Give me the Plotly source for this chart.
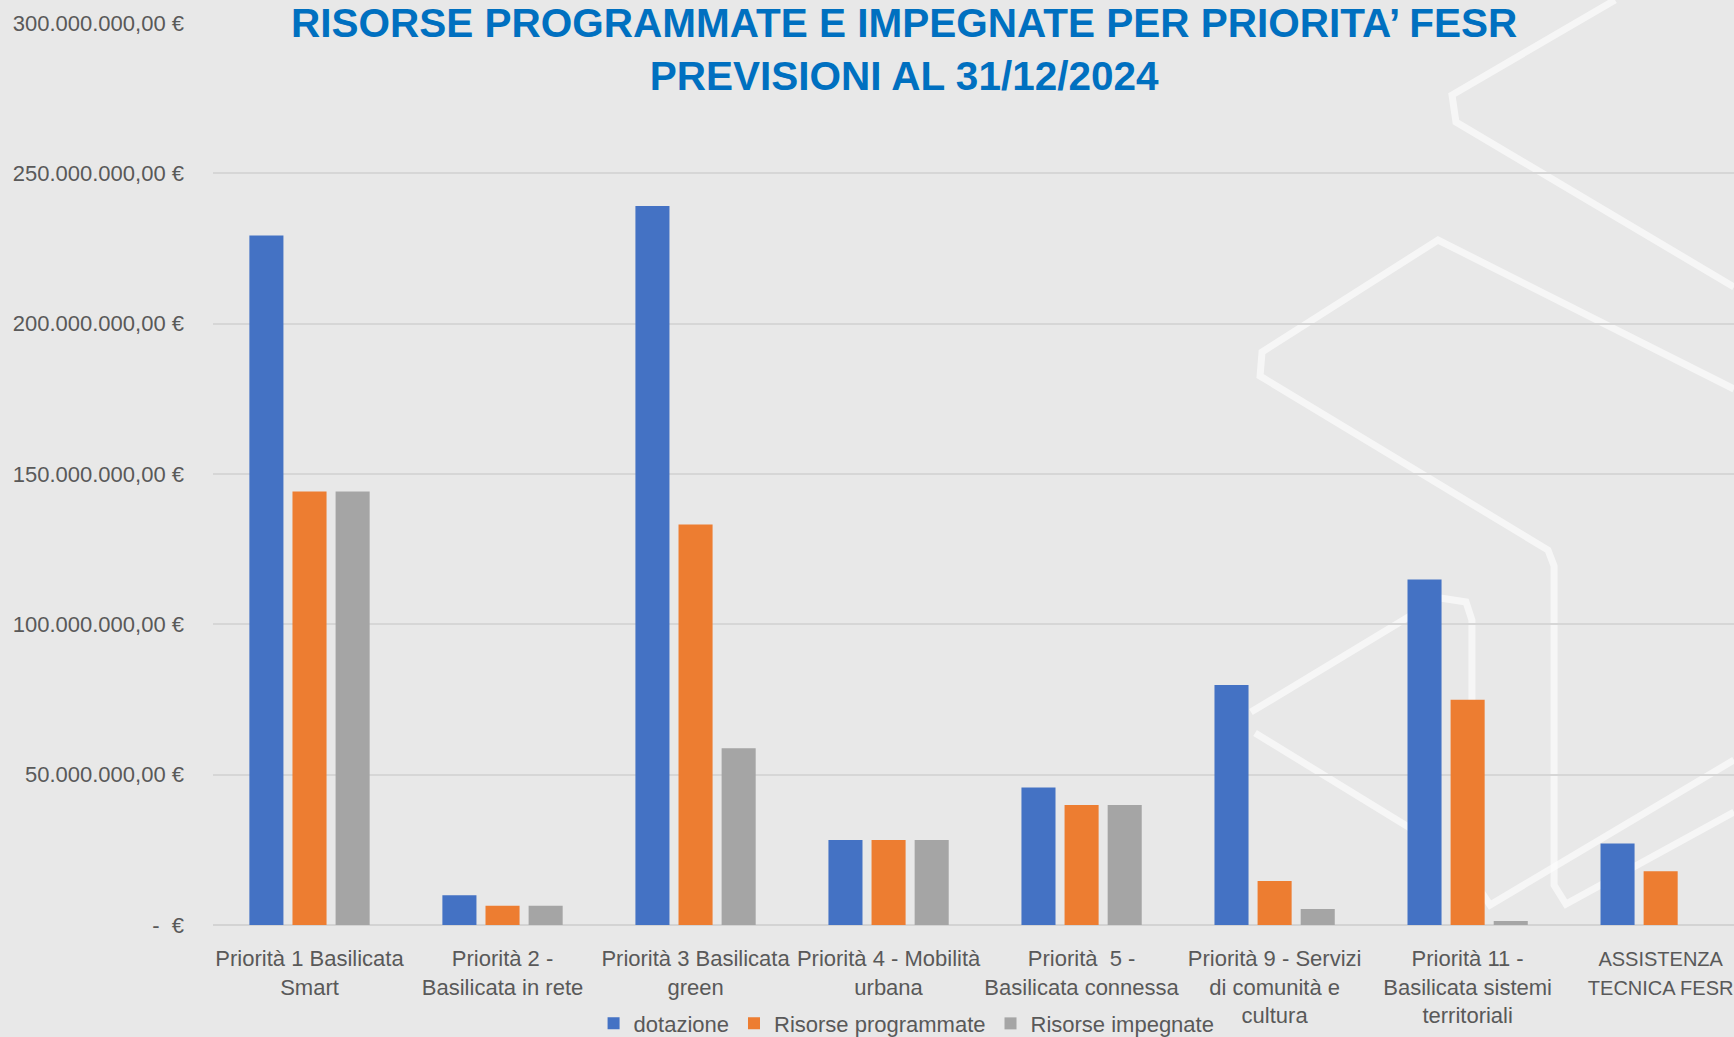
import plotly.graph_objects as go

categories = [
    "Priorità 1 Basilicata<br>Smart",
    "Priorità 2 -<br>Basilicata in rete",
    "Priorità 3 Basilicata<br>green",
    "Priorità 4 - Mobilità<br>urbana",
    "Priorità  5 -<br>Basilicata connessa",
    "Priorità 9 - Servizi<br>di comunità e<br>cultura",
    "Priorità 11 -<br>Basilicata sistemi<br>territoriali",
    "<span style='font-size:20px'>ASSISTENZA<br>TECNICA FESR</span>",
]
dotazione = [229.3e6, 9.9e6, 239.1e6, 28.3e6, 45.7e6, 79.8e6, 114.9e6, 27.1e6]
programmate = [144.2e6, 6.4e6, 133.2e6, 28.3e6, 39.9e6, 14.6e6, 74.9e6, 17.9e6]
impegnate = [144.2e6, 6.4e6, 58.8e6, 28.3e6, 39.9e6, 5.3e6, 1.3e6, 0]
series_names = ["dotazione", "Risorse programmate", "Risorse impegnate"]
colors = ["#4472C4", "#ED7D31", "#A5A5A5"]
y_tickvals = [0, 50e6, 100e6, 150e6, 200e6, 250e6, 300e6]
y_ticktext = ["-  €", "50.000.000,00 €", "100.000.000,00 €", "150.000.000,00 €",
              "200.000.000,00 €", "250.000.000,00 €", "300.000.000,00 €"]
title_text = "<b>RISORSE PROGRAMMATE E IMPEGNATE PER PRIORITA’ FESR<br>PREVISIONI AL 31/12/2024</b>"

W, H = 1734, 1037
L, R, T, B = 213, 0, 23, 112
FONT = "Liberation Sans, Arial, sans-serif"

fig = go.Figure()
for name, vals, col in zip(series_names, [dotazione, programmate, impegnate], colors):
    fig.add_trace(go.Bar(x=categories, y=vals, name=name, marker_color=col,
                         marker_line_width=0))

# decorative background lines (pixel -> paper helper)
pw, ph = W - L - R, H - T - B
def px(x):
    return (x - L) / pw
def py(y):
    return (H - B - y) / ph
def path(pts):
    return "M " + " L ".join(f"{px(x):.4f},{py(y):.4f}" for x, y in pts)
deco = [
    [(1615, 0), (1452, 95), (1456, 122), (1734, 287)],
    [(1734, 389), (1438, 240), (1262, 352), (1260, 376), (1548, 550), (1554, 566), (1554, 885), (1566, 904), (1734, 812)],
    [(1251, 712), (1440, 598), (1466, 602), (1472, 620), (1472, 878), (1490, 905), (1734, 760)],
    [(1255, 733), (1410, 828)],
]
shapes = []
for pts in deco:
    shapes.append(dict(type="path", path=path(pts), xref="paper", yref="paper",
                       line=dict(color="rgba(255,255,255,0.6)", width=7), layer="below"))

fig.add_annotation(text=title_text, xref="paper", yref="paper",
                   x=px(904), xanchor="center", y=py(-2), yanchor="top",
                   showarrow=False, align="center",
                   font=dict(family=FONT, size=40.5, color="#0070C0"))

fig.update_layout(
    width=W, height=H,
    margin=dict(l=L, r=R, t=T, b=B, pad=0, autoexpand=False),
    paper_bgcolor="#E8E8E8",
    plot_bgcolor="rgba(0,0,0,0)",
    barmode="group", bargap=0.33, bargroupgap=0.21,
    font=dict(family=FONT, size=22, color="#595959"),
    xaxis=dict(range=[-0.5, 7.38], showgrid=False, showline=False, zeroline=False,
               automargin=False,
               ticks="", ticklabelstandoff=18, tickfont=dict(size=22, color="#595959")),
    yaxis=dict(range=[0, 300e6], tickvals=y_tickvals, ticktext=y_ticktext,
               automargin=False,
               showgrid=True, gridcolor="#D6D6D6", gridwidth=1.5,
               zeroline=True, zerolinecolor="#D3D3D3", zerolinewidth=2,
               showline=False, ticks="", ticklabelstandoff=28,
               tickfont=dict(size=22, color="#595959")),
    legend=dict(orientation="h", x=0.456, xanchor="center", y=-0.086, yanchor="top",
                font=dict(size=22, color="#595959"), bgcolor="rgba(0,0,0,0)",
                traceorder="normal"),
    shapes=shapes,
)
fig.write_html("out.html", config={"displayModeBar": False},
               post_script="document.body.style.margin='0';document.body.style.overflow='hidden';")
